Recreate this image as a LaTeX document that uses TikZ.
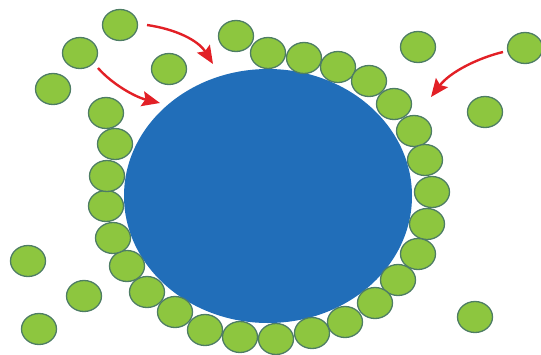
\documentclass[tikz,border=0pt]{standalone}
\usetikzlibrary{shapes.geometric,arrows.meta}
\definecolor{cellblue}{RGB}{33,110,185}
\definecolor{beadgreen}{RGB}{141,198,63}
\definecolor{beadedge}{RGB}{78,125,100}
\definecolor{arrred}{RGB}{226,32,38}
\tikzset{
  cell/.style={ellipse, fill=cellblue, draw=none, minimum width=288pt, minimum height=254pt, inner sep=0pt},
  bead/.style={ellipse, fill=beadgreen, draw=beadedge, line width=1.3pt, minimum width=35pt, minimum height=31pt, inner sep=0pt},
  redarrow/.style={draw=arrred, line width=2.4pt, -{Stealth[length=18pt,width=15pt,inset=3pt]}}
}
\begin{document}
\begin{tikzpicture}[x=1pt,y=-1pt]
\useasboundingbox (0,0) rectangle (541,354);
\clip (0,0) rectangle (541,354);
\node[cell] (cell) at (268,196) {};
% ring beads
\foreach \x/\y [count=\i] in {236/36, 268/53, 304/58, 338/67, 369/81, 394/104, 414/131, 425/160, 432/192, 427/224, 418/254, 398/280, 375/303, 345/322, 312/333, 276/339, 240/337, 205/330, 175/312, 147/292, 127/266, 113/238, 106/206, 107/176, 115/144, 106/113}
  \node[bead] (r\i) at (\x,\y) {};
% loose beads
\foreach \x/\y [count=\i] in {120/25, 80/53, 53/89, 169/69, 418/47, 525/48, 485/112, 28/261, 84/296, 39/329, 475/317}
  \node[bead] (f\i) at (\x,\y) {};
% arrows
\coordinate (a1s) at (147,25);
\coordinate (a1e) at (213,64);
\coordinate (a2s) at (98,68);
\coordinate (a2e) at (160,103);
\coordinate (a3s) at (503,52);
\coordinate (a3e) at (431,97);
\draw[redarrow] (a1s) .. controls (175,29) and (198,40) .. (a1e);
\draw[redarrow] (a2s) .. controls (112,84) and (135,97) .. (a2e);
\draw[redarrow] (a3s) .. controls (478,58) and (450,72) .. (a3e);
\end{tikzpicture}
\end{document}
